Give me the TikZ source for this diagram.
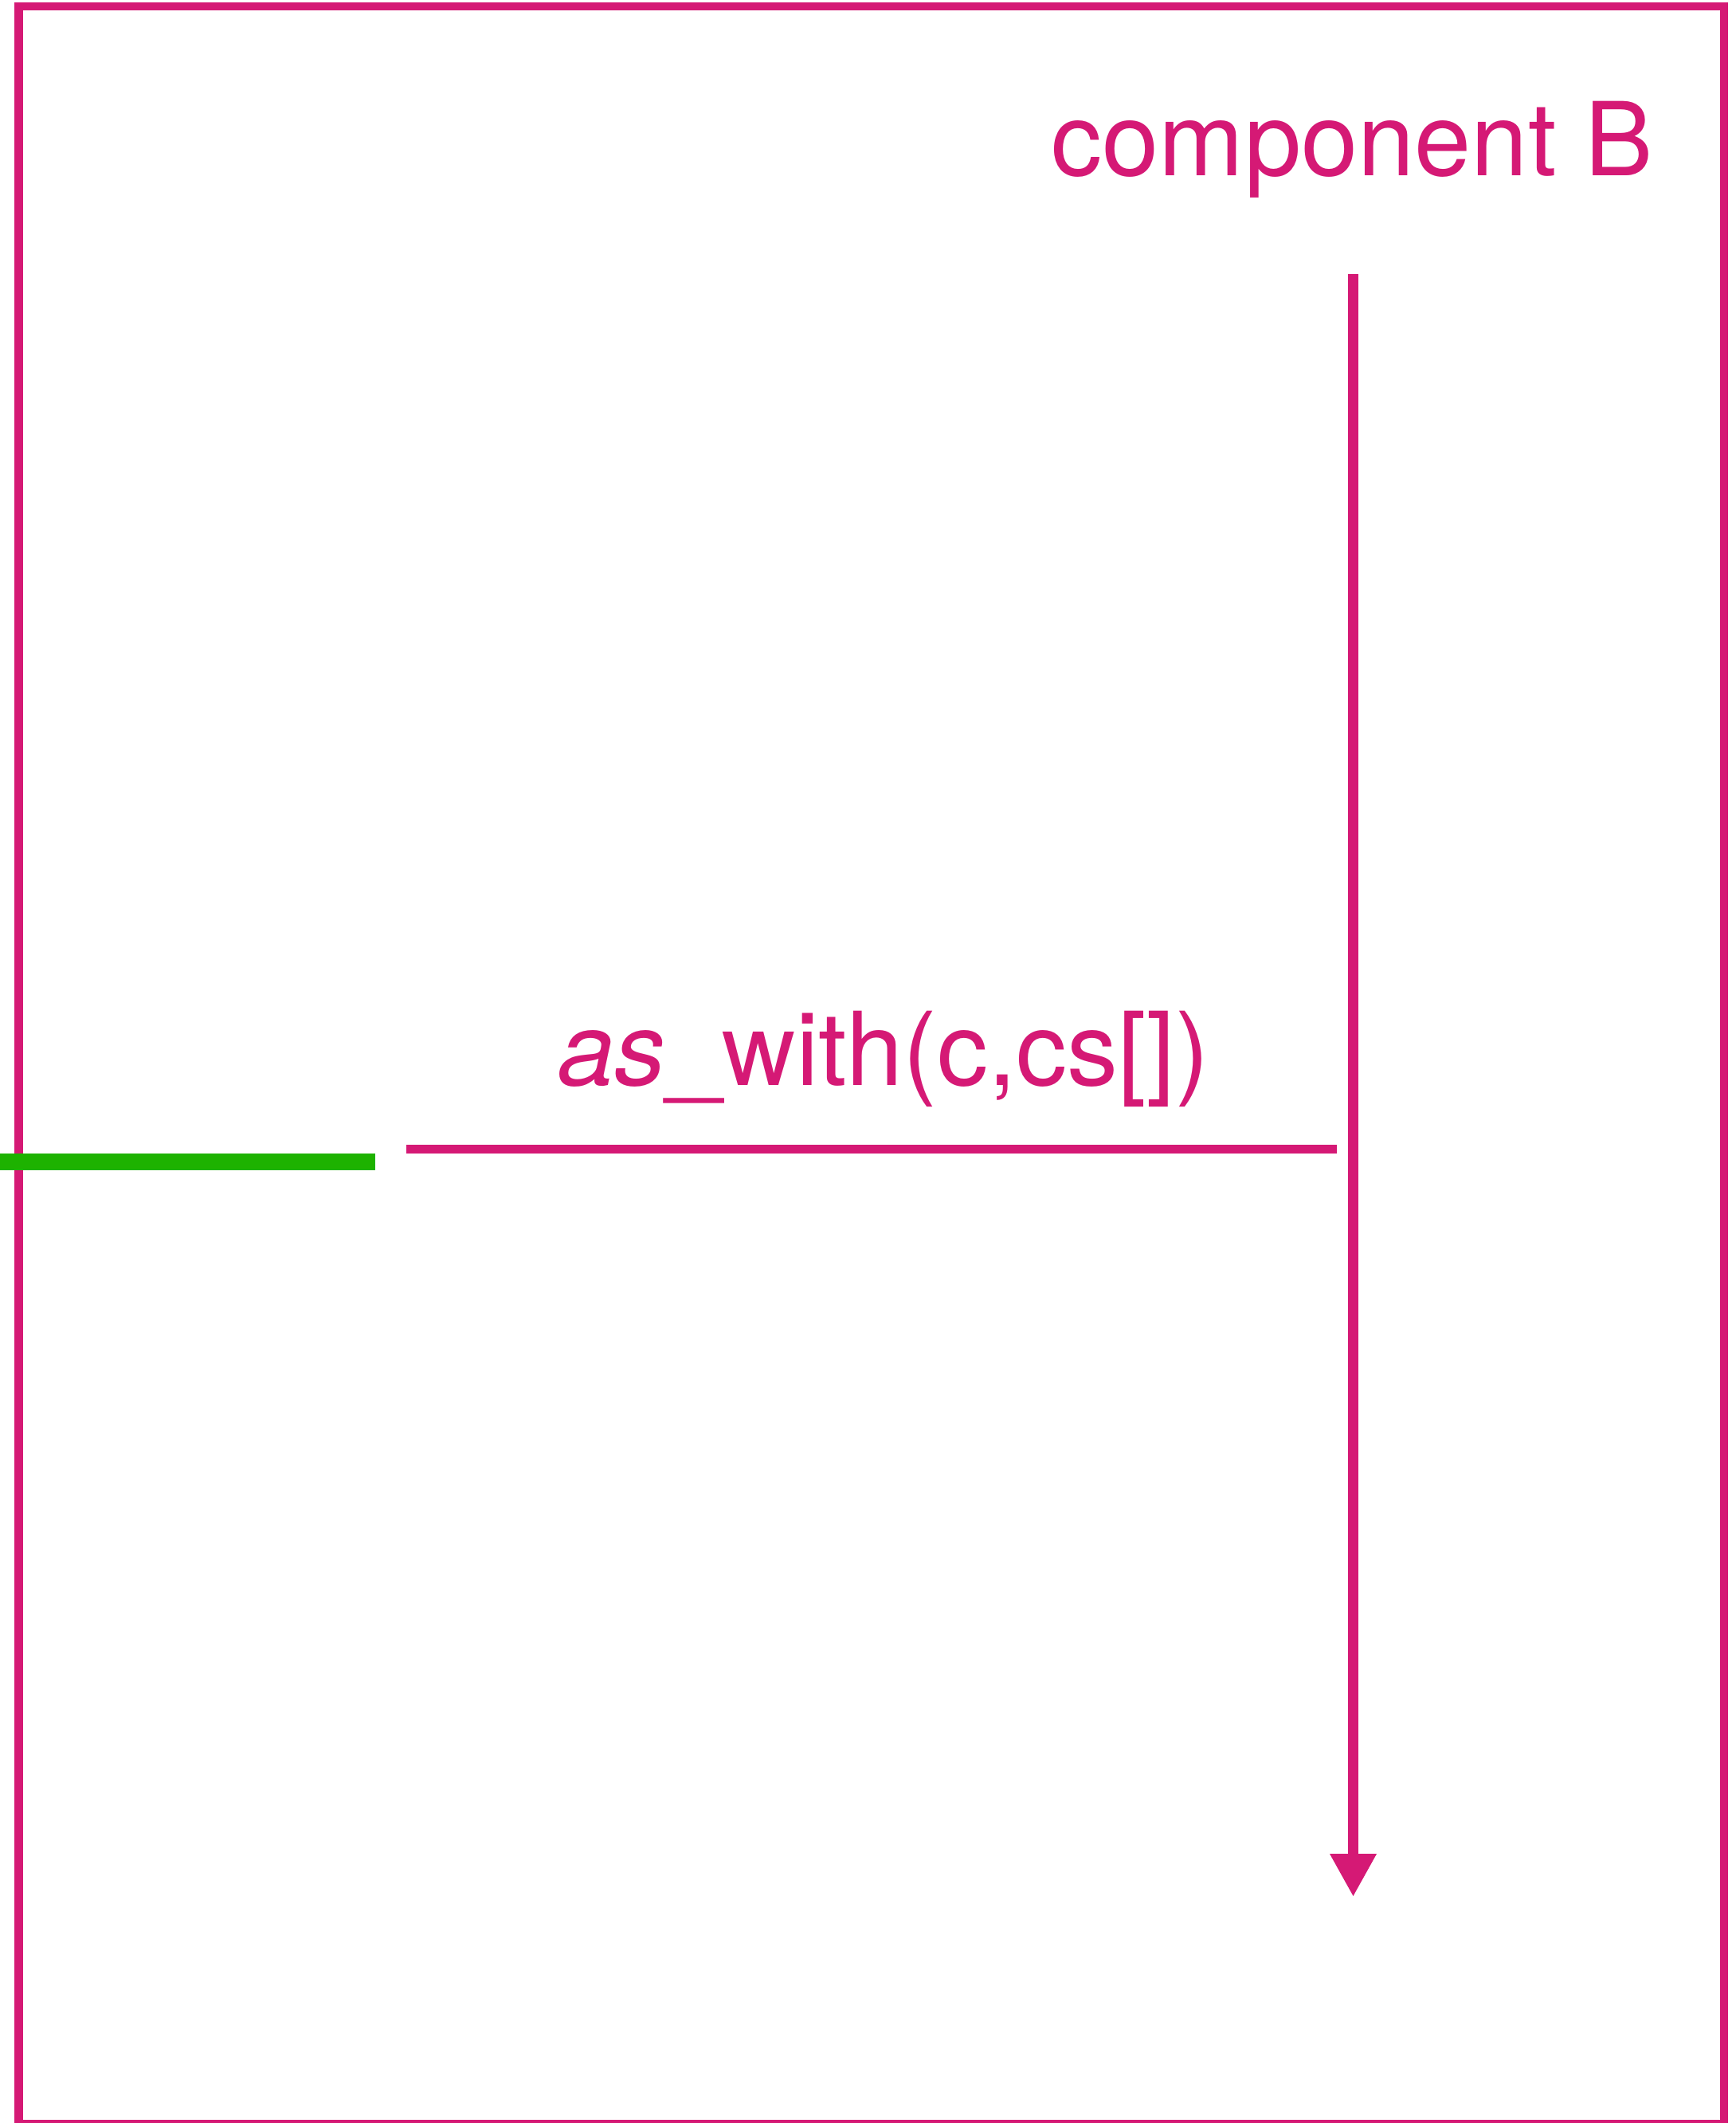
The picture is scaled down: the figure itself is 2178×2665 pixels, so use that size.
\documentclass[tikz,border=0pt]{standalone}
\usepackage{fontspec}
\setmainfont{TeX Gyre Heros}
\usetikzlibrary{arrows.meta}
\definecolor{mag}{RGB}{213,25,117}
\definecolor{grn}{RGB}{29,178,0}
\begin{document}
\begin{tikzpicture}[x=0.25pt,y=-0.25pt,
  frame/.style={draw=mag,line width=2.6pt},
  lbl/.style={text=mag,font=\fontsize{32}{38}\selectfont,inner sep=0pt},
  msg/.style={draw=mag,line width=2.6pt},
  life/.style={draw=mag,line width=3.25pt,-{Triangle[length=13.5pt,width=13.75pt]}},
  gline/.style={draw=grn,line width=5.25pt}]
\useasboundingbox (0,0) rectangle (2178,2665);
\fill[white] (0,0) rectangle (2178,2665);
\draw[frame] (23.5,8) rectangle (2164,2666);
\node[lbl,anchor=base west] (compB) at (1319,221) {component B};
\coordinate (lifeTop) at (1698.5,344);
\coordinate (lifeEnd) at (1698.5,2381);
\draw[life] (lifeTop) -- (lifeEnd);
\coordinate (gA) at (0,1458.5);
\coordinate (gB) at (471,1458.5);
\draw[gline] (gA) -- (gB);
\coordinate (mA) at (510,1442.5);
\coordinate (mB) at (1678,1442.5);
\draw[msg] (mA) -- (mB);
\node[lbl,anchor=base] (msglbl) at (1109,1362.7) {\textit{as}\_with(c,cs[])};
\end{tikzpicture}
\end{document}
